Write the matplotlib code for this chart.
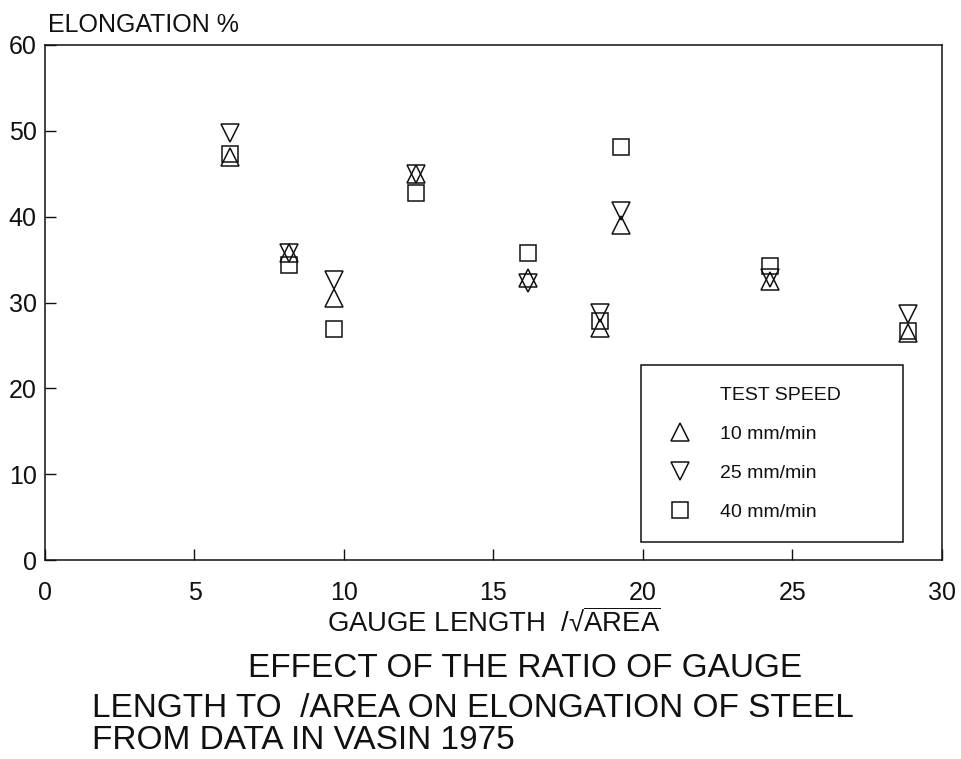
import matplotlib
matplotlib.use("Agg")
import matplotlib.pyplot as plt
from matplotlib.lines import Line2D

plt.rcParams["font.family"] = ["Liberation Sans", "DejaVu Sans"]
plt.rcParams["mathtext.fontset"] = "custom"
plt.rcParams["mathtext.rm"] = "Liberation Sans"
plt.rcParams["mathtext.it"] = "Liberation Sans"

# Gauge length / sqrt(area) for each test group
ratio = [6.2, 8.15, 9.65, 12.4, 16.15, 18.55, 19.25, 24.25, 28.85]

# Elongation (%) at each test speed
elong_10 = [47.0, 35.8, 30.5, 45.0, 32.8, 27.0, 39.0, 32.5, 26.4]
elong_25 = [49.8, 35.8, 32.6, 45.0, 32.3, 28.8, 40.7, 32.9, 28.7]
elong_40 = [47.3, 34.4, 26.9, 42.8, 35.8, 27.8, 48.1, 34.2, 26.7]

speed_labels = ["10 mm/min", "25 mm/min", "40 mm/min"]
xticks = [0, 5, 10, 15, 20, 25, 30]
yticks = [0, 10, 20, 30, 40, 50, 60]

ink = "#111111"

fig = plt.figure(figsize=(9.61, 7.59), dpi=100)
ax = fig.add_axes([45 / 961, 1 - 560 / 759, 897 / 961, 515 / 759])

mk = dict(linestyle="none", markerfacecolor="none", markeredgecolor=ink,
          markeredgewidth=1.1)
h10, = ax.plot(ratio, elong_10, marker="^", markersize=13, **mk)
h25, = ax.plot(ratio, elong_25, marker="v", markersize=13, **mk)
h40, = ax.plot(ratio, elong_40, marker="s", markersize=11, **mk)

ax.set_xlim(0, 30)
ax.set_ylim(0, 60)
ax.set_xticks(xticks)
ax.set_yticks(yticks)
ax.tick_params(axis="x", direction="in", length=8, width=1.0, pad=15,
               labelsize=18, colors=ink)
ax.tick_params(axis="y", direction="in", length=8, width=1.0, pad=6,
               labelsize=18, colors=ink)
for s in ax.spines.values():
    s.set_linewidth(1.1)
    s.set_color(ink)

ax.set_xlabel(r"GAUGE LENGTH  /√$\overline{\mathrm{AREA}}$", fontsize=19.8,
              color=ink)
ax.xaxis.label.set_va("baseline")
ax.xaxis.set_label_coords(0.5, (560 - 632) / 515)

fig.text(48 / 961, 1 - 32 / 759, "ELONGATION %", fontsize=18, color=ink,
         ha="left", va="baseline")

# Legend: header row uses an empty handle so it lines up with the labels
blank = Line2D([], [], linestyle="none", marker="")
leg = ax.legend([blank, h10, h25, h40], ["TEST SPEED"] + speed_labels,
                loc="upper left",
                bbox_to_anchor=((641 - 45) / 897, 0.0, (903 - 641) / 897,
                                (560 - 365) / 515),
                mode="expand", borderaxespad=0, fontsize=14,
                borderpad=1.1, handlelength=1.85, handletextpad=1.1,
                labelspacing=1.1, fancybox=False, framealpha=1,
                edgecolor=ink, numpoints=1)
leg.get_frame().set_linewidth(1.1)
for t in leg.get_texts():
    t.set_color(ink)

title_kw = dict(fontsize=24, color=ink, ha="left", va="baseline")
fig.text(248 / 961, 1 - 677 / 759, "EFFECT OF THE RATIO OF GAUGE", **title_kw)
fig.text(92 / 961, 1 - 717 / 759, "LENGTH TO  /AREA ON ELONGATION OF STEEL",
         **title_kw)
fig.text(92 / 961, 1 - 749 / 759, "FROM DATA IN VASIN 1975", **title_kw)

fig.savefig("out.png", dpi=100, facecolor="white")
